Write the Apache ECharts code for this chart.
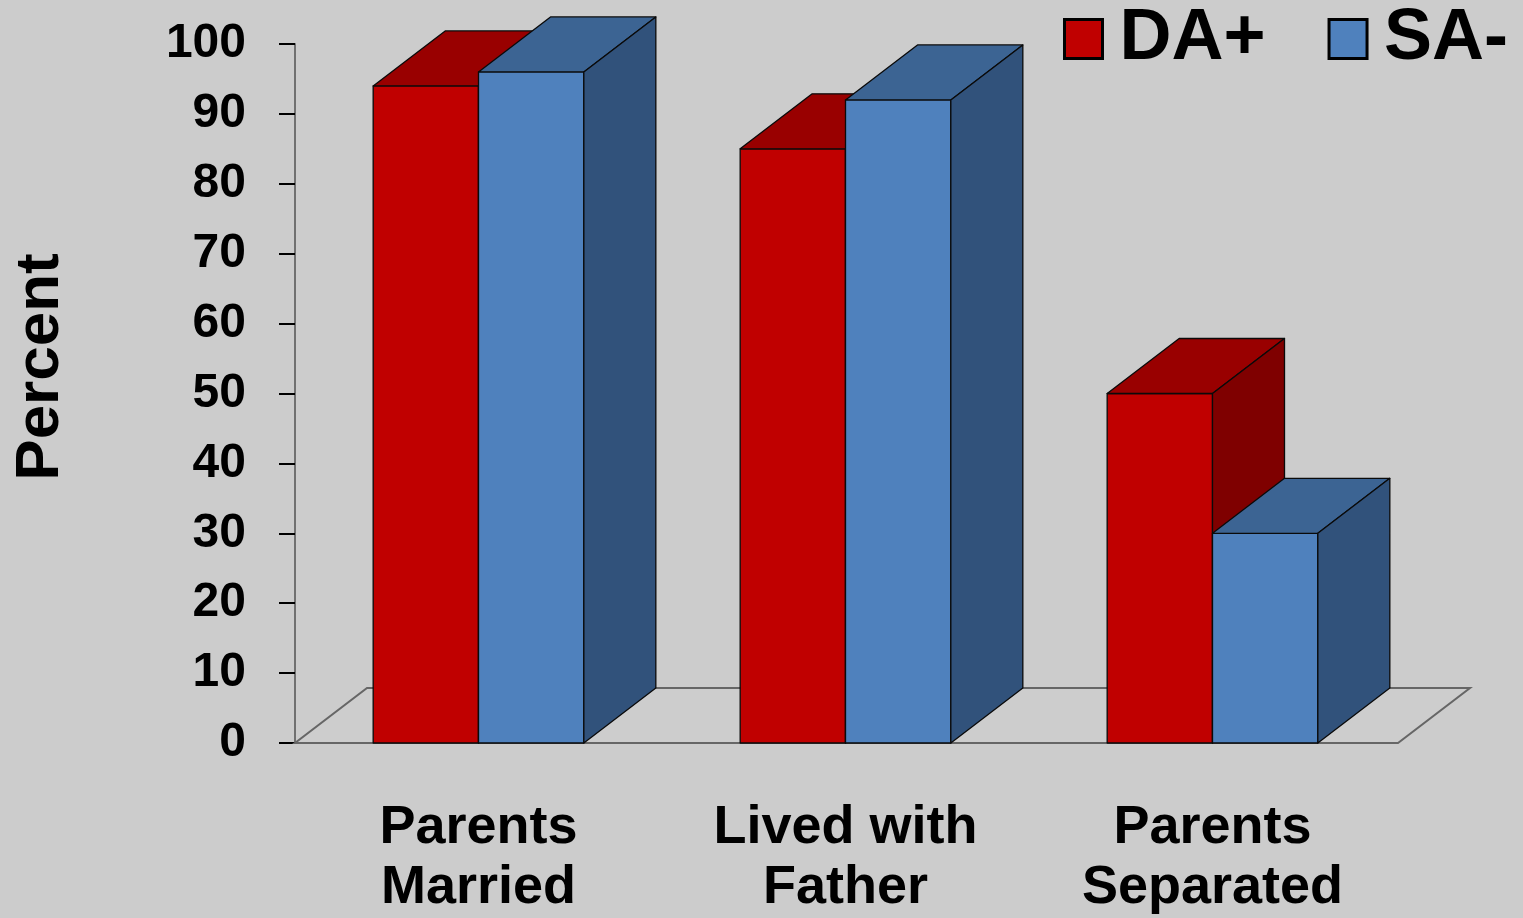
<!DOCTYPE html>
<html>
<head>
<meta charset="utf-8">
<script src="https://cdn.jsdelivr.net/npm/echarts@6/dist/echarts.min.js"></script>
<style>
html,body{margin:0;padding:0;background:#cccccc;}
#chart{width:1523px;height:918px;}
</style>
</head>
<body>
<div id="chart"></div>
<script>
const categories = ['Parents\nMarried', 'Lived with\nFather', 'Parents\nSeparated'];
const seriesNames = ['DA+', 'SA-'];
const daPlus = [94, 85, 50];
const saMinus = [96, 92, 30];
const yMin = 0, yMax = 100, yStep = 10;

const FONT = '"Liberation Sans", Arial, sans-serif';
const DX = 72, DY = -55;
const BAR_FRAC = 0.287;

const palette = {
  'DA+': { front: '#c00000', top: '#990000', side: '#7f0000' },
  'SA-': { front: '#4f81bd', top: '#3c6493', side: '#31527b' }
};

function barRenderer(slot, cols) {
  return function (params, api) {
    const idx = api.value(0);
    const val = api.value(1);
    const base = api.coord([idx, 0]);
    const topPt = api.coord([idx, val]);
    const bw = api.size([1, 0])[0] * BAR_FRAC;
    const x0 = slot === 0 ? base[0] - bw : base[0];
    const x1 = x0 + bw;
    const yb = base[1], yt = topPt[1];
    const stroke = { stroke: '#0a0a0a', lineWidth: 1.3, lineJoin: 'round' };
    return {
      type: 'group',
      children: [
        { type: 'polygon', shape: { points: [[x0, yt], [x1, yt], [x1, yb], [x0, yb]] },
          style: Object.assign({ fill: cols.front }, stroke) },
        { type: 'polygon', shape: { points: [[x0, yt], [x0 + DX, yt + DY], [x1 + DX, yt + DY], [x1, yt]] },
          style: Object.assign({ fill: cols.top }, stroke) },
        { type: 'polygon', shape: { points: [[x1, yt], [x1 + DX, yt + DY], [x1 + DX, yb + DY], [x1, yb]] },
          style: Object.assign({ fill: cols.side }, stroke) }
      ]
    };
  };
}

function floorRenderer(params, api) {
  const cs = params.coordSys;
  const xl = cs.x, xr = cs.x + cs.width, yf = cs.y + cs.height;
  return {
    type: 'polygon',
    shape: { points: [[xl, yf], [xr + 2, yf], [xr + 2 + DX, yf + DY], [xl + DX, yf + DY]] },
    style: { fill: '#cdcdcd', stroke: '#666666', lineWidth: 2 }
  };
}

const chart = echarts.init(document.getElementById('chart'), null, { renderer: 'canvas' });
chart.setOption({
  backgroundColor: '#cccccc',
  animation: false,
  textStyle: { fontFamily: FONT },
  grid: { left: 295, right: 127, top: 44, bottom: 170, containLabel: false },
  legend: {
    data: [
      { name: 'DA+', itemStyle: { color: palette['DA+'].front, borderColor: '#000', borderWidth: 3 } },
      { name: 'SA-', itemStyle: { color: palette['SA-'].front, borderColor: '#000', borderWidth: 3 } }
    ],
    left: 1058, top: -4,
    icon: 'rect',
    itemWidth: 38, itemHeight: 39,
    itemGap: 62,
    textStyle: { fontFamily: FONT, fontSize: 72, fontWeight: 'bold', color: '#000', padding: [4, 0, 0, 12], lineHeight: 72 }
  },
  graphic: [{
    type: 'text',
    x: 41, y: 367,
    rotation: Math.PI / 2,
    style: { text: 'Percent', fontFamily: FONT, fontSize: 62, fontWeight: 'bold', fill: '#000',
             textAlign: 'center', textVerticalAlign: 'middle' }
  }],
  xAxis: {
    type: 'category',
    data: categories,
    boundaryGap: true,
    axisLine: { show: false },
    axisTick: { show: false },
    axisLabel: { interval: 0, fontFamily: FONT, fontSize: 54, fontWeight: 'bold', color: '#000', lineHeight: 60, margin: 55 }
  },
  yAxis: {
    type: 'value',
    min: yMin, max: yMax, interval: yStep,
    splitLine: { show: false },
    axisLine: { show: true, lineStyle: { color: '#707070', width: 2 } },
    axisTick: { show: true, length: 16, lineStyle: { color: '#000', width: 2 } },
    axisLabel: { fontFamily: FONT, fontSize: 48, fontWeight: 'bold', color: '#000', margin: 49 }
  },
  series: [
    { name: 'floor', type: 'custom', z: 1, silent: true, renderItem: floorRenderer, data: [[0, 0]], encode: { x: 0, y: 1 } },
    { name: seriesNames[0], type: 'custom', z: 2, renderItem: barRenderer(0, palette['DA+']),
      itemStyle: { color: palette['DA+'].front },
      data: daPlus.map((v, i) => [i, v]), encode: { x: 0, y: 1 } },
    { name: seriesNames[1], type: 'custom', z: 3, renderItem: barRenderer(1, palette['SA-']),
      itemStyle: { color: palette['SA-'].front },
      data: saMinus.map((v, i) => [i, v]), encode: { x: 0, y: 1 } }
  ]
});
</script>
</body>
</html>
